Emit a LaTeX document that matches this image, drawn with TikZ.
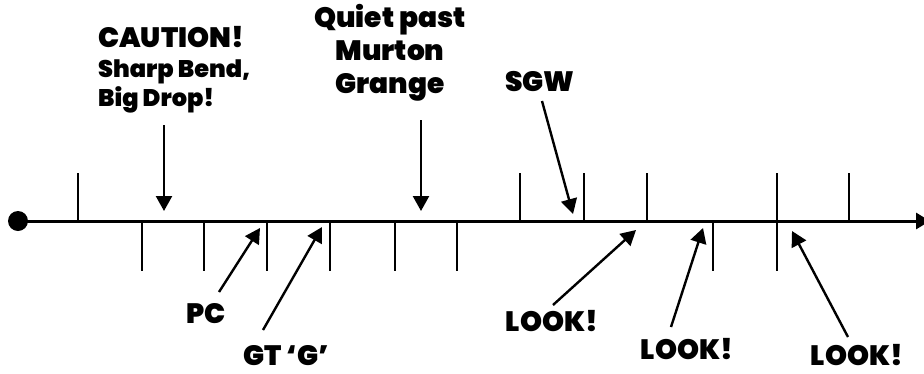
\documentclass[tikz,border=0pt]{standalone}
\usepackage{fontspec}
\setmainfont{Poppins}[BoldFont={Poppins Black}]
\usetikzlibrary{arrows.meta}
\tikzstyle{sign} = [font=\bfseries\fontsize{28}{32}\selectfont, inner sep=0pt, anchor=base]
\tikzstyle{smallsign} = [font=\bfseries\fontsize{24}{28}\selectfont, inner sep=0pt, anchor=base west]
\tikzstyle{tick} = [line width=1.8pt]
\tikzstyle{pointer} = [line width=2.4pt, -{Triangle[length=15pt,width=16pt]}]
\tikzstyle{mainline} = [line width=3pt, -{Triangle[length=14pt,width=16pt]}]

\begin{document}
\begin{tikzpicture}[x=1pt, y=-1pt]
    \useasboundingbox (0,0) rectangle (924,373);
    % the road
    \node (start) [circle, fill=black, minimum size=20pt, inner sep=0pt] at (18,221) {};
    \coordinate (finish) at (930,221);
    \draw [mainline] (start.center) -- (finish);
    \foreach \x in {78,520,584,647,849}
        \draw [tick] (\x,173) -- (\x,221);
    \foreach \x in {142,204,267,330,395,457,713}
        \draw [tick] (\x,221) -- (\x,271);
    \draw [tick] (777,173) -- (777,271);

    % signs above
    \node (caution) [sign, anchor=base west] at (98,47) {CAUTION!};
    \node (bend) [smallsign] at (98,77) {Sharp Bend,};
    \node (drop) [smallsign] at (98,106) {Big Drop!};
    \node (quiet) [sign] at (390,27) {Quiet past};
    \node (murton) [sign] at (390,60) {Murton};
    \node (grange) [sign] at (390,93) {Grange};
    \node (sgw) [sign] at (540,91) {SGW};

    % signs below
    \node (pc) [sign] at (206,323) {PC};
    \node (gt) [sign] at (286,365) {GT `G'};
    \node (lookA) [sign] at (552,331) {LOOK!};
    \node (lookB) [sign] at (687,359) {LOOK!};
    \node (lookC) [sign] at (857,365) {LOOK!};

    \coordinate (cautionTail) at (164,125);
    \coordinate (cautionHead) at (164,211);
    \coordinate (quietTail) at (421,120);
    \coordinate (quietHead) at (421,211);
    \coordinate (sgwTail) at (542,101);
    \coordinate (sgwHead) at (573,214);
    \coordinate (pcTail) at (219,292);
    \coordinate (pcHead) at (260,228);
    \coordinate (gtTail) at (263,330);
    \coordinate (gtHead) at (322,227);
    \coordinate (lookATail) at (553,305);
    \coordinate (lookAHead) at (636,230);
    \coordinate (lookBTail) at (671,327);
    \coordinate (lookBHead) at (703,228);
    \coordinate (lookCTail) at (848,337);
    \coordinate (lookCHead) at (792,231);

    \draw [pointer] (cautionTail) -- (cautionHead);
    \draw [pointer] (quietTail) -- (quietHead);
    \draw [pointer] (sgwTail) -- (sgwHead);
    \draw [pointer] (pcTail) -- (pcHead);
    \draw [pointer] (gtTail) -- (gtHead);
    \draw [pointer] (lookATail) -- (lookAHead);
    \draw [pointer] (lookBTail) -- (lookBHead);
    \draw [pointer] (lookCTail) -- (lookCHead);
\end{tikzpicture}
\end{document}
